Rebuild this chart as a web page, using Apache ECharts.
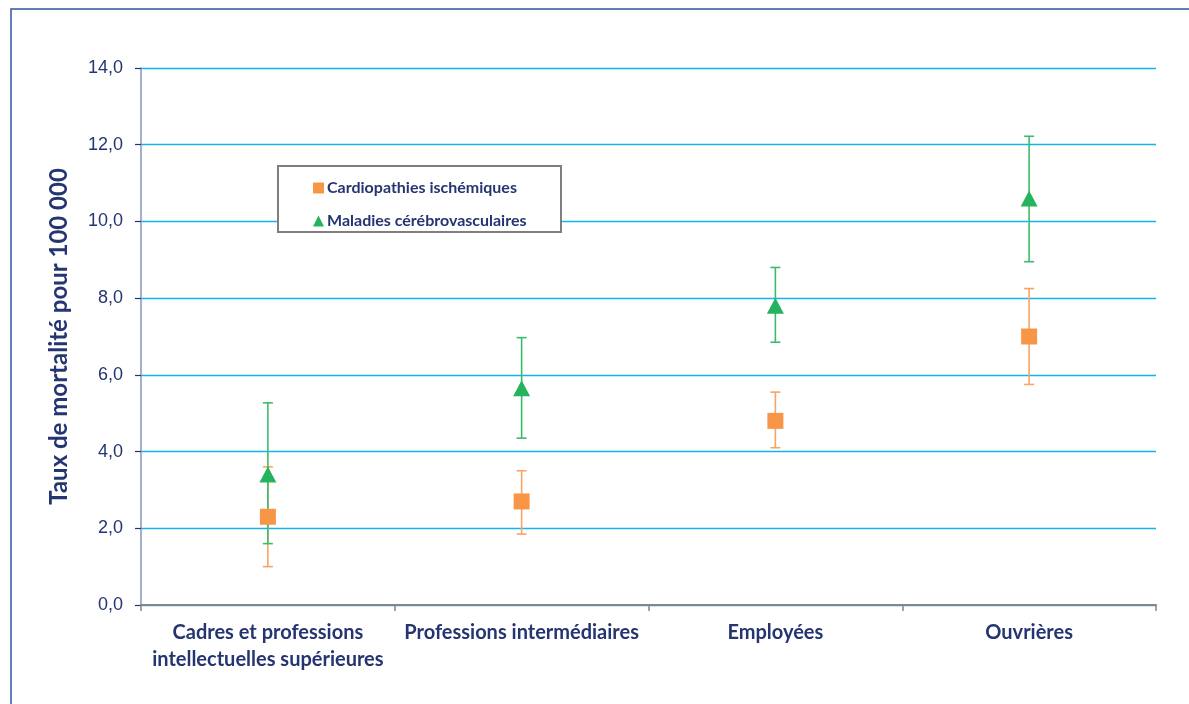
<!DOCTYPE html>
<html>
<head>
<meta charset="utf-8">
<script src="https://cdn.jsdelivr.net/npm/echarts@6/dist/echarts.min.js"></script>
<style>
  html, body { margin: 0; padding: 0; background: #ffffff; }
  #chart { width: 1189px; height: 704px; }
</style>
</head>
<body>
<div id="chart"></div>
<script>
// Catégories socioprofessionnelles
const categories = [
  'Cadres et professions\nintellectuelles supérieures',
  'Professions intermédiaires',
  'Employées',
  'Ouvrières'
];

// Cardiopathies ischémiques : taux et intervalle de confiance
const cardioRate  = [2.3, 2.7, 4.8, 7.0];
const cardioLow   = [1.0, 1.85, 4.1, 5.75];
const cardioHigh  = [3.6, 3.5, 5.55, 8.25];

// Maladies cérébrovasculaires : taux et intervalle de confiance
const avcRate  = [3.4, 5.65, 7.8, 10.6];
const avcLow   = [1.6, 4.35, 6.85, 8.95];
const avcHigh  = [5.27, 6.97, 8.8, 12.22];

const seriesNames = ['Cardiopathies ischémiques', 'Maladies cérébrovasculaires'];
const yTicks = [0, 2, 4, 6, 8, 10, 12, 14];

const navy = '#243571';
const orange = '#f79646';
const orangeBar = '#f9a464';
const green = '#26b35d';
const greenBar = '#3dbb6c';
const font = 'Lato, "Open Sans", sans-serif';

function errorBars(low, high, color) {
  return {
    type: 'custom',
    silent: true,
    z: 2,
    data: low.map((lo, i) => [i, lo, high[i]]),
    encode: { x: 0, y: [1, 2] },
    renderItem: function (params, api) {
      const lo = api.coord([api.value(0), api.value(1)]);
      const hi = api.coord([api.value(0), api.value(2)]);
      const half = 5;
      const style = { stroke: color, lineWidth: 1.6 };
      return {
        type: 'group',
        children: [
          { type: 'line', shape: { x1: hi[0], y1: hi[1], x2: lo[0], y2: lo[1] }, style },
          { type: 'line', shape: { x1: hi[0] - half, y1: hi[1], x2: hi[0] + half, y2: hi[1] }, style },
          { type: 'line', shape: { x1: lo[0] - half, y1: lo[1], x2: lo[0] + half, y2: lo[1] }, style }
        ]
      };
    }
  };
}

const chart = echarts.init(document.getElementById('chart'), null, { renderer: 'canvas' });

chart.setOption({
  animation: false,
  backgroundColor: '#ffffff',
  textStyle: { fontFamily: font },
  grid: { left: 141, right: 33, top: 68, bottom: 99, containLabel: false },
  graphic: [
    {
      type: 'rect',
      z: -10,
      shape: { x: 11, y: 9, width: 1200, height: 720 },
      style: { fill: 'none', stroke: '#2f55a4', lineWidth: 1.5 }
    },
    {
      type: 'rect',
      z: 20,
      shape: { x: 278, y: 166, width: 283, height: 66 },
      style: { fill: '#ffffff', stroke: '#7f7f7f', lineWidth: 2 }
    }
  ],
  legend: {
    orient: 'vertical',
    left: 308,
    top: 174,
    z: 30,
    itemGap: 15,
    itemWidth: 11,
    itemHeight: 11,
    textStyle: {
      color: navy, fontWeight: 'bold', fontSize: 16, lineHeight: 18,
      fontFamily: font, padding: [0, 0, 0, -2]
    },
    data: [
      { name: seriesNames[0], icon: 'rect', itemStyle: { color: orange } },
      { name: seriesNames[1], icon: 'triangle', itemStyle: { color: green } }
    ]
  },
  xAxis: {
    type: 'category',
    data: categories,
    boundaryGap: true,
    axisLine: { lineStyle: { color: '#868686', width: 2 } },
    axisTick: { show: true, length: 6, lineStyle: { color: '#868686', width: 1.5 } },
    axisLabel: {
      color: navy,
      fontWeight: 'bold',
      fontSize: 20,
      lineHeight: 27,
      margin: 14,
      interval: 0,
      fontFamily: font
    },
    splitLine: { show: false }
  },
  yAxis: {
    type: 'value',
    min: yTicks[0],
    max: yTicks[yTicks.length - 1],
    interval: 2,
    name: 'Taux de mortalité pour 100 000',
    nameLocation: 'middle',
    nameGap: 70,
    nameRotate: 90,
    nameTextStyle: { color: navy, fontWeight: 'bold', fontSize: 24, fontFamily: font },
    axisLine: { show: true, lineStyle: { color: '#8a92b8', width: 1.5 } },
    axisTick: { show: true, length: 6, lineStyle: { color: navy, width: 1.2 } },
    axisLabel: {
      color: navy,
      fontSize: 18,
      margin: 18,
      fontFamily: '"Liberation Sans", Arial, sans-serif',
      formatter: v => v.toFixed(1).replace('.', ',')
    },
    splitLine: { show: true, lineStyle: { color: '#12b4ec', width: 1.3 } }
  },
  series: [
    errorBars(cardioLow, cardioHigh, orangeBar),
    errorBars(avcLow, avcHigh, greenBar),
    {
      name: seriesNames[0],
      type: 'scatter',
      z: 5,
      symbol: 'rect',
      symbolSize: 16,
      itemStyle: { color: orange, opacity: 1 },
      data: cardioRate
    },
    {
      name: seriesNames[1],
      type: 'scatter',
      z: 6,
      symbol: 'triangle',
      symbolSize: [17, 16],
      itemStyle: { color: green, opacity: 1 },
      data: avcRate
    }
  ]
});
</script>
</body>
</html>
